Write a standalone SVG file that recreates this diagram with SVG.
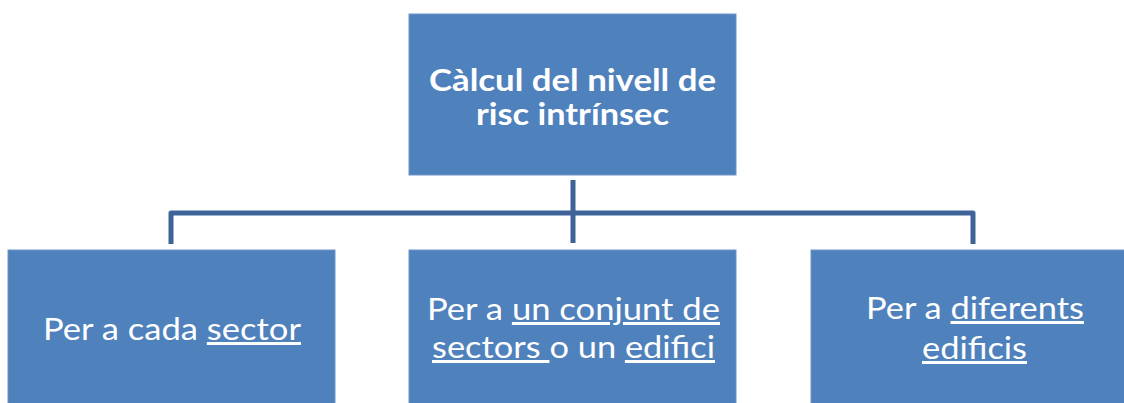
<svg xmlns="http://www.w3.org/2000/svg" width="1124" height="403" viewBox="0 0 1124 403">
<style>
.box{fill:#4F81BD;stroke:#6F95C8;stroke-width:1}
.t{font-family:Lato,"Open Sans","Liberation Sans",sans-serif;fill:#FFFFFF;font-size:30px}
.b{font-weight:bold}
.u{text-decoration:underline}
.c{fill:none;stroke:#3D6399;stroke-width:5;stroke-linejoin:round}
</style>
<rect width="1124" height="403" fill="#FFFFFF"/>
<g id="connectors">
<path class="c" d="M573 180 V243"/>
<path class="c" d="M171 244 V213 H973 V244"/>
</g>
<g id="root">
<rect class="box" x="409" y="14" width="327" height="161"/>
<text class="t b" x="429" y="91" textLength="287" lengthAdjust="spacingAndGlyphs">Càlcul del nivell de</text>
<text class="t b" x="476" y="125" textLength="193" lengthAdjust="spacingAndGlyphs">risc intrínsec</text>
</g>
<g id="sector">
<rect class="box" x="8" y="250" width="327" height="161"/>
<text class="t" x="43" y="340" textLength="258" lengthAdjust="spacingAndGlyphs">Per a cada <tspan class="u">sector</tspan></text>
</g>
<g id="conjunt">
<rect class="box" x="409" y="250" width="327" height="161"/>
<text class="t" x="427" y="320" textLength="293" lengthAdjust="spacingAndGlyphs">Per a <tspan class="u">un conjunt de</tspan></text>
<text class="t" x="432" y="358" textLength="283" lengthAdjust="spacingAndGlyphs"><tspan class="u">sectors </tspan>o un <tspan class="u">edifici</tspan></text>
</g>
<g id="edificis">
<rect class="box" x="811" y="250" width="327" height="161"/>
<text class="t" x="866" y="319" textLength="218" lengthAdjust="spacingAndGlyphs">Per a <tspan class="u">diferents</tspan></text>
<text class="t" x="922" y="359" textLength="105" lengthAdjust="spacingAndGlyphs"><tspan class="u">edificis</tspan></text>
</g>
</svg>
